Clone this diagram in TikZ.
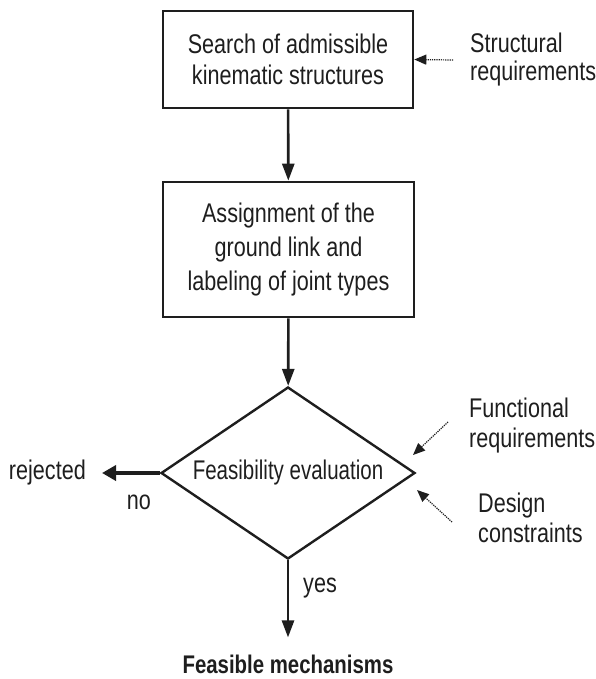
\documentclass[tikz,border=0pt]{standalone}
\usepackage{fontspec}
\setmainfont{Liberation Sans}[FakeStretch=0.8]
\newfontfamily\diafont{Liberation Sans}[FakeStretch=0.76]
\usetikzlibrary{arrows.meta,shapes.geometric}
\definecolor{ink}{HTML}{1E1E1E}
\begin{document}
\begin{tikzpicture}[x=1pt,y=-1pt,
  every node/.style={text=ink},
  txt/.style={font=\fontsize{27}{31}\selectfont, align=center},
  lbl/.style={font=\fontsize{27}{30}\selectfont, align=left, inner sep=0},
  stepbox/.style={draw=ink, line width=2.6pt, txt, inner sep=0},
  flow/.style={draw=ink, line width=2.6pt, -{Triangle[length=17pt,width=12pt]}},
  hint/.style={draw=ink, line width=1.2pt, densely dotted, -{Triangle[length=12pt,width=10pt]}}
]
\useasboundingbox (0,0) rectangle (595,679);
\node[stepbox, minimum width=250pt, minimum height=97pt] (s1) at (288,59.5)
  {Search of admissible\\kinematic structures};
\node[stepbox, minimum width=251pt, minimum height=135pt, font=\fontsize{27}{34}\selectfont] (s2) at (288.5,249.5)
  {Assignment of the\\ground link and\\labeling of joint types};
\node[diamond, draw=ink, line width=2.4pt, aspect=1.5, minimum width=254pt, minimum height=172pt,
  inner sep=0, font=\diafont\fontsize{27}{31}\selectfont] (dia) at (288,473) {Feasibility evaluation};
\node[lbl, anchor=west, font=\fontsize{27}{28}\selectfont] (sr) at (470,60) {Structural\\requirements};
\node[lbl, anchor=west] (fr) at (469,426) {Functional\\requirements};
\node[lbl, anchor=west] (dc) at (478,518) {Design\\constraints};
\node[lbl, anchor=east] (rej) at (86,473) {rejected};
\node[lbl] (no) at (139,502) {no};
\node[lbl, anchor=west] (yes) at (303,588) {yes};
\node[font=\bfseries\fontsize{25.5}{29}\selectfont, inner sep=0] (fm) at (288,664) {Feasible mechanisms};
\coordinate (frt) at (448,422);
\coordinate (dct) at (452,522);
\draw[flow] (s1) -- (s2);
\draw[flow] (s2) -- (dia);
\draw[flow] (dia.south) -- ([yshift=17pt]fm.north);
\draw[flow, line width=4pt, -{Triangle[length=14pt,width=15pt]}] (dia.west) -- ([xshift=16pt]rej.east);
\draw[hint] ([xshift=-17pt]sr.west) -- (s1.east);
\draw[hint] (frt) -- (413,455);
\draw[hint] (dct) -- (417,490);
\end{tikzpicture}
\end{document}
